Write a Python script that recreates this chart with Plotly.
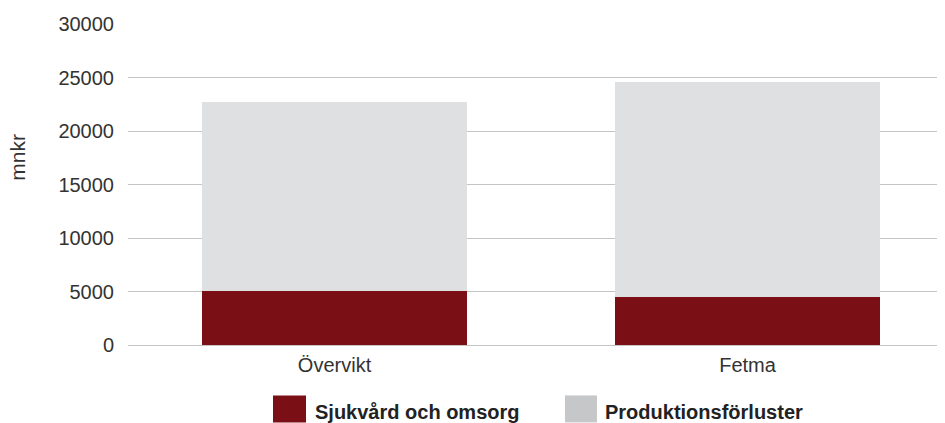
import plotly.graph_objects as go

categories = ["Övervikt", "Fetma"]
sjukvard = [5080, 4520]
produktion = [17630, 20060]
series_names = ["Sjukvård och omsorg", "Produktionsförluster"]
y_ticks = [0, 5000, 10000, 15000, 20000, 25000, 30000]
y_tick_labels = ["0", "5000", "10000", "15000", "20000", "25000", "30000"]

RED = "#7a1016"
GREY_BAR = "#dfe0e2"
GREY_LEG = "#c6c7c9"
FONT = "Arial, Liberation Sans, sans-serif"

OFF = 8  # page body margin
W, H = 945 - OFF, 423 - OFF
L, R, T, B = 128 - OFF, 0, 24 - OFF, 423 - 345.5
pw, ph = W - L - R, H - T - B

def px(x):
    return (x - OFF - L) / pw

def py(y):
    return (H - B - (y - OFF)) / ph

fig = go.Figure()
fig.add_trace(go.Bar(x=categories, y=sjukvard, name=series_names[0],
                     marker=dict(color=RED, line=dict(width=0)), width=0.642))
fig.add_trace(go.Bar(x=categories, y=produktion, name=series_names[1],
                     marker=dict(color=GREY_BAR, line=dict(width=0)), width=0.642))

fig.update_layout(
    barmode="stack",
    width=W, height=H,
    margin=dict(l=L, r=R, t=T, b=B, pad=0),
    paper_bgcolor="white", plot_bgcolor="white",
    showlegend=False,
    font=dict(family=FONT, size=20, color="#333333"),
    xaxis=dict(range=[-0.5, 1.478], showgrid=False, showline=False, zeroline=False,
               ticks="outside", ticklen=2, tickcolor="rgba(0,0,0,0)",
               tickfont=dict(size=20, color="#333333")),
    yaxis=dict(range=[0, 30000], tickvals=y_ticks, ticktext=y_tick_labels,
               showgrid=True, gridcolor="#c4c4c4",
               gridwidth=1, zeroline=True, zerolinecolor="#c4c4c4", zerolinewidth=1,
               showline=False, ticks="outside", ticklen=9, tickcolor="rgba(0,0,0,0)",
               tickfont=dict(size=20, color="#333333")),
)

# y-axis title
fig.add_annotation(text="mnkr", xref="paper", yref="paper", x=px(18), y=py(158),
                   textangle=-90, showarrow=False, font=dict(size=21, color="#333333"),
                   xanchor="center", yanchor="middle")

# custom legend
leg = [(273, 306, RED, series_names[0], 313), (565, 597, GREY_LEG, series_names[1], 603)]
for x0, x1, col, name, tx in leg:
    fig.add_shape(type="rect", xref="paper", yref="paper", x0=px(x0), x1=px(x1),
                  y0=py(423), y1=py(396), fillcolor=col, line=dict(width=0), layer="above")
    fig.add_annotation(text="<b>" + name + "</b>", xref="paper", yref="paper",
                       x=px(tx), y=py(413), xanchor="left", yanchor="middle",
                       showarrow=False, font=dict(size=20, color="#222222"))

fig.write_html("out.html")
